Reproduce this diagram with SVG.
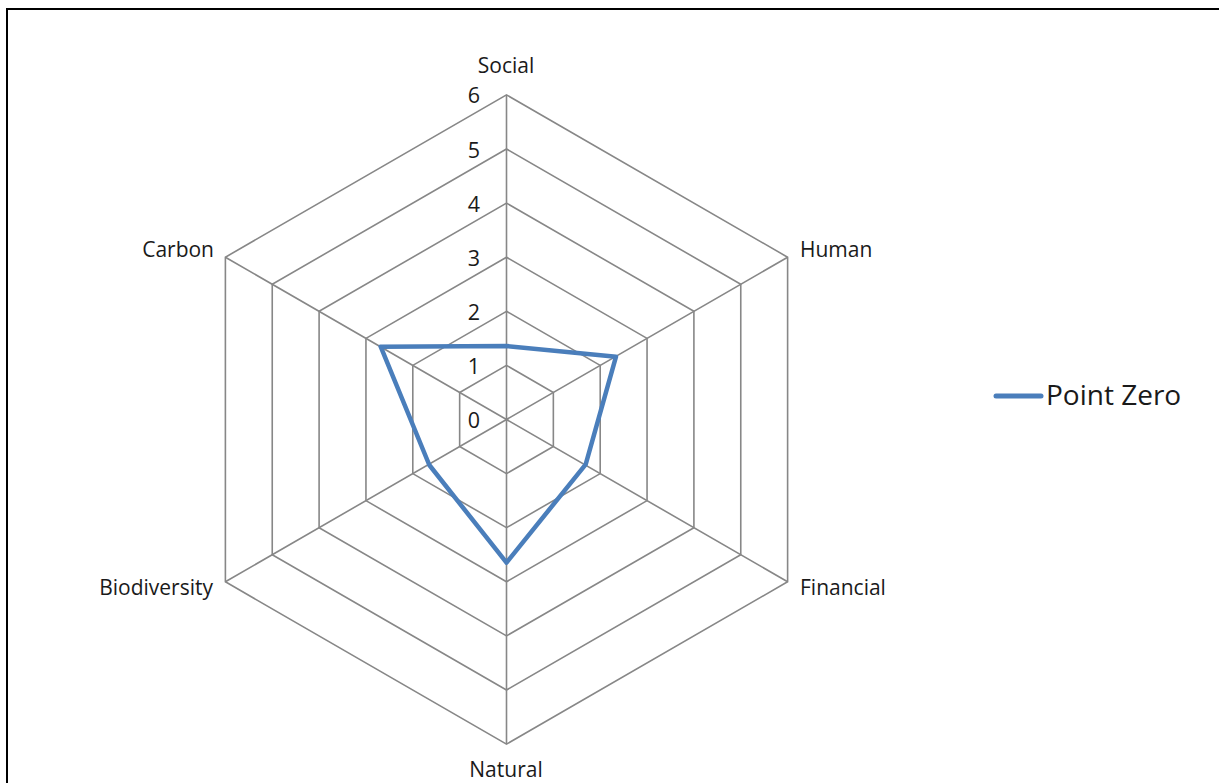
<svg xmlns="http://www.w3.org/2000/svg" width="1219" height="783" viewBox="0 0 1219 783">
<style>
.grid{fill:none;stroke:#878787;stroke-width:1.6}
.lbl{font-family:"Open Sans","Liberation Sans",sans-serif;font-size:21px;fill:#1a1a1a}
.num{font-family:"Open Sans","Liberation Sans",sans-serif;font-size:21.5px;fill:#1a1a1a;text-anchor:middle}
.series{fill:none;stroke:#4A7EBB;stroke-width:4.5;stroke-linejoin:round;stroke-linecap:round}
</style>
<rect x="0" y="0" width="1219" height="783" fill="#ffffff"/>
<rect x="7" y="9" width="1230" height="800" fill="none" stroke="#000000" stroke-width="2"/>
<g id="grid">
<polygon class="grid" points="506.5,365.4 553.35,392.45 553.35,446.55 506.5,473.6 459.65,446.55 459.65,392.45"/>
<polygon class="grid" points="506.5,311.3 600.2,365.4 600.2,473.6 506.5,527.7 412.8,473.6 412.8,365.4"/>
<polygon class="grid" points="506.5,257.2 647.05,338.35 647.05,500.65 506.5,581.8 365.95,500.65 365.95,338.35"/>
<polygon class="grid" points="506.5,203.1 693.9,311.3 693.9,527.7 506.5,635.9 319.1,527.7 319.1,311.3"/>
<polygon class="grid" points="506.5,149 740.76,284.25 740.76,554.75 506.5,690 272.24,554.75 272.24,284.25"/>
<polygon class="grid" points="506.5,94.9 787.61,257.2 787.61,581.8 506.5,744.1 225.39,581.8 225.39,257.2"/>
<path class="grid" d="M506.5,419.5 L506.5,94.9 M506.5,419.5 L787.61,257.2 M506.5,419.5 L787.61,581.8 M506.5,419.5 L506.5,744.1 M506.5,419.5 L225.39,581.8 M506.5,419.5 L225.39,257.2"/>
</g>
<g id="axis-values">
<text class="num" x="474" y="428">0</text>
<text class="num" x="474" y="374">1</text>
<text class="num" x="474" y="319.5">2</text>
<text class="num" x="474" y="265.5">3</text>
<text class="num" x="474" y="211.5">4</text>
<text class="num" x="474" y="157.5">5</text>
<text class="num" x="474" y="103">6</text>
</g>
<g id="category-labels">
<text class="lbl" x="506" y="73" text-anchor="middle">Social</text>
<text class="lbl" x="800" y="257" text-anchor="start">Human</text>
<text class="lbl" x="800" y="595" text-anchor="start">Financial</text>
<text class="lbl" x="506" y="777" text-anchor="middle">Natural</text>
<text class="lbl" x="213" y="595" text-anchor="end">Biodiversity</text>
<text class="lbl" x="214" y="257" text-anchor="end">Carbon</text>
</g>
<g id="series-point-zero">
<polygon class="series" points="506.5,346 616,356.7 585.7,464.3 506.5,562.7 429.3,465 380.7,346.7"/>
</g>
<g id="legend">
<line x1="996" y1="396" x2="1041" y2="396" stroke="#4A7EBB" stroke-width="5" stroke-linecap="round"/>
<text x="1046" y="405" font-family="'Open Sans','Liberation Sans',sans-serif" font-size="28" fill="#1a1a1a">Point Zero</text>
</g>
</svg>
